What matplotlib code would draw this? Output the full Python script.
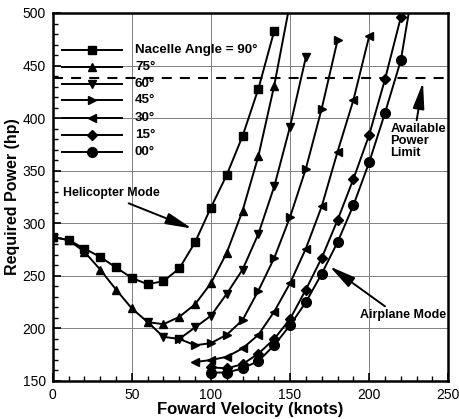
import matplotlib
matplotlib.use("Agg")
import matplotlib.pyplot as plt
from matplotlib.ticker import MultipleLocator

plt.rcParams['font.family'] = ['Liberation Sans', 'DejaVu Sans']

# ---- data ----
angles = ["90", "75", "60", "45", "30", "15", "00"]
labels = ["Nacelle Angle = 90°", "75°", "60°", "45°", "30°", "15°", "00°"]

x90 = [0, 10, 20, 30, 40, 50, 60, 70, 80, 90, 100, 110, 120, 130, 140]
y90 = [287, 284, 276, 268, 258, 248, 242, 245, 257, 282, 315, 346, 383, 428, 483]

x75 = [0, 10, 20, 30, 40, 50, 60, 70, 80, 90, 100, 110, 120, 130, 140, 150]
y75 = [287, 284, 273, 256, 237, 219, 206, 204, 211, 223, 243, 272, 312, 364, 431, 510]

x60 = [60, 70, 80, 90, 100, 110, 120, 130, 140, 150, 160]
y60 = [206, 192, 190, 201, 212, 233, 256, 290, 335, 392, 458]

x45 = [80, 90, 100, 110, 120, 130, 140, 150, 160, 170, 180]
y45 = [190, 184, 186, 194, 208, 236, 267, 306, 352, 409, 474]

x30 = [90, 100, 110, 120, 130, 140, 150, 160, 170, 180, 190, 200]
y30 = [168, 170, 173, 181, 194, 216, 243, 276, 316, 368, 417, 478]

x15 = [100, 110, 120, 130, 140, 150, 160, 170, 180, 190, 200, 210, 220]
y15 = [163, 162, 166, 176, 190, 209, 237, 267, 303, 342, 384, 437, 496]

x00 = [100, 110, 120, 130, 140, 150, 160, 170, 180, 190, 200, 210, 220, 230]
y00 = [158, 158, 162, 169, 184, 203, 225, 252, 282, 317, 358, 405, 455, 545]

power_limit = 438

xs = [x90, x75, x60, x45, x30, x15, x00]
ys = [y90, y75, y60, y45, y30, y15, y00]
markers = ['s', '^', 'v', '>', '<', 'D', 'o']
msizes = [5.5, 5.5, 5.5, 5.5, 5.5, 5.0, 7.0]

# ---- figure ----
fig = plt.figure(figsize=(4.59, 4.19), dpi=100)
ax = fig.add_axes([0.1148, 0.0907, 0.8619, 0.8783])

for x, y, m, ms in zip(xs, ys, markers, msizes):
    ax.plot(x, y, color='black', lw=1.4, marker=m, ms=ms, zorder=3)

ax.axhline(power_limit, color='black', lw=1.5, dashes=(4.8, 3.9), zorder=2)

ax.set_xlim(0, 250)
ax.set_ylim(150, 500)
ax.xaxis.set_major_locator(MultipleLocator(50))
ax.xaxis.set_minor_locator(MultipleLocator(10))
ax.yaxis.set_major_locator(MultipleLocator(50))
ax.yaxis.set_minor_locator(MultipleLocator(10))
ax.tick_params(which='both', direction='in', top=False, right=False)
ax.tick_params(which='major', length=6, width=1.2, labelsize=10, pad=5)
ax.tick_params(which='minor', length=3.5, width=1.0)
ax.grid(True, which='major', color='#808080', lw=0.7, zorder=0)
for s in ax.spines.values():
    s.set_linewidth(1.8)

ax.set_xlabel("Foward Velocity (knots)", fontsize=12, fontweight='bold', labelpad=0)
ax.set_ylabel("Required Power (hp)", fontsize=11.5, fontweight='bold', labelpad=2)

# ---- legend (drawn in axes coordinates) ----
row_y = [0.899, 0.853, 0.807, 0.764, 0.715, 0.668, 0.621]
for lab, m, ms, yy in zip(labels, markers, msizes, row_y):
    ax.plot([0.023, 0.174], [yy, yy], color='black', lw=1.4, transform=ax.transAxes, zorder=3)
    ax.plot([0.0985], [yy], color='black', marker=m, ms=ms, transform=ax.transAxes, zorder=3)
    ax.text(0.208, yy, lab, transform=ax.transAxes, fontsize=9.6, fontweight='bold',
            va='center', ha='left')

# ---- annotations ----
arrow = dict(arrowstyle='-|>,head_length=1.6,head_width=0.35', color='black', lw=1.4,
             shrinkA=0, shrinkB=0)
ax.text(6.5, 329, "Helicopter Mode", fontsize=8.9, fontweight='bold', va='center', ha='left')
ax.annotate("", xy=(88, 295), xytext=(48, 319), arrowprops=arrow)

ax.text(194, 213, "Airplane Mode", fontsize=9.0, fontweight='bold', va='center', ha='left')
ax.annotate("", xy=(175, 259), xytext=(210, 221), arrowprops=arrow)

ax.text(213.5, 378, "Available\nPower\nLimit", fontsize=9.3, fontweight='bold', va='center',
        ha='left', linespacing=1.0)
ax.annotate("", xy=(234, 434), xytext=(230, 398), arrowprops=arrow)

fig.savefig("out.png", dpi=100)
